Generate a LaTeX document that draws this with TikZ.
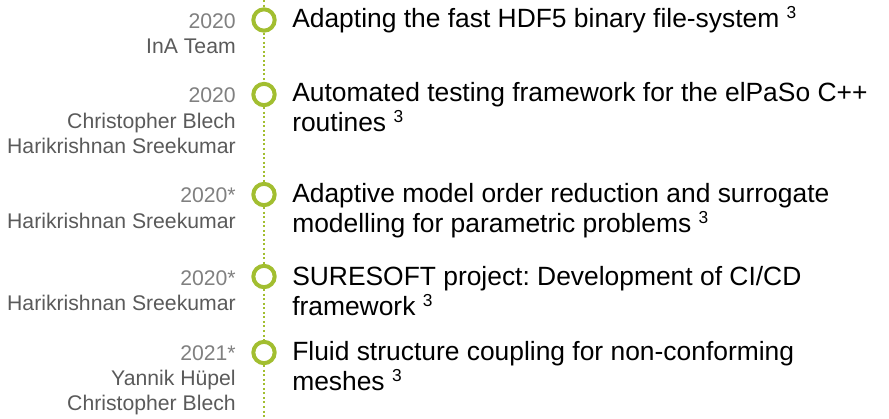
\documentclass[tikz,border=0pt]{standalone}
\usepackage{fontspec}
\setmainfont{Liberation Sans}
\frenchspacing
\definecolor{tlgreen}{RGB}{162,190,48}
\definecolor{yeargray}{RGB}{128,128,128}
\definecolor{namegray}{RGB}{90,90,90}
\newcommand{\refsup}{\ \raisebox{6.75pt}{\fontsize{13}{13}\selectfont 3}}
\begin{document}
\begin{tikzpicture}[x=0.75pt,y=-0.75pt,
  ring/.style={circle,draw=tlgreen,line width=3pt,fill=white,minimum size=16pt,inner sep=0pt},
  tline/.style={draw=tlgreen,line width=1.5pt,dash pattern=on 1.5pt off 1.9pt},
  entry/.style={anchor=base west,inner sep=0pt,align=left,font=\fontsize{19.8}{22.5}\selectfont,text=black},
  who/.style={anchor=base east,inner sep=0pt,align=right,font=\fontsize{15.9}{19}\selectfont,text=namegray}]
\useasboundingbox (0,0) rectangle (889,418);
\coordinate (top) at (264,0);
\coordinate (bot) at (264,418);
\node[ring] (c1) at (264,20) {};
\node[ring] (c2) at (264,94.5) {};
\node[ring] (c3) at (264,194.5) {};
\node[ring] (c4) at (264,276.5) {};
\node[ring] (c5) at (264,352.5) {};
\path[tline] (top) -- (c1) (c1) -- (c2) (c2) -- (c3) (c3) -- (c4) (c4) -- (c5) (c5) -- (bot);
% base anchor of a multi-line node is the baseline of its last line
\node[entry] (e1) at (292,27.5) {Adapting the fast HDF5 binary file-system\refsup};
\node[entry] (e2) at (292,131.7) {Automated testing framework for the elPaSo C++\\routines\refsup};
\node[entry] (e3) at (292,232) {Adaptive model order reduction and surrogate\\modelling for parametric problems\refsup};
\node[entry] (e4) at (292,315) {SURESOFT project: Development of CI/CD\\framework\refsup};
\node[entry] (e5) at (292,390) {Fluid structure coupling for non-conforming\\meshes\refsup};
\node[who] (w1) at (236,53.6) {\textcolor{yeargray}{2020}\\InA Team};
\node[who] (w2) at (236,153.4) {\textcolor{yeargray}{2020}\\Christopher Blech\\Harikrishnan Sreekumar};
\node[who] (w3) at (236,228.3) {\textcolor{yeargray}{2020*}\\Harikrishnan Sreekumar};
\node[who] (w4) at (236,310.8) {\textcolor{yeargray}{2020*}\\Harikrishnan Sreekumar};
\node[who] (w5) at (236,410.7) {\textcolor{yeargray}{2021*}\\Yannik Hüpel\\Christopher Blech};
\end{tikzpicture}
\end{document}
